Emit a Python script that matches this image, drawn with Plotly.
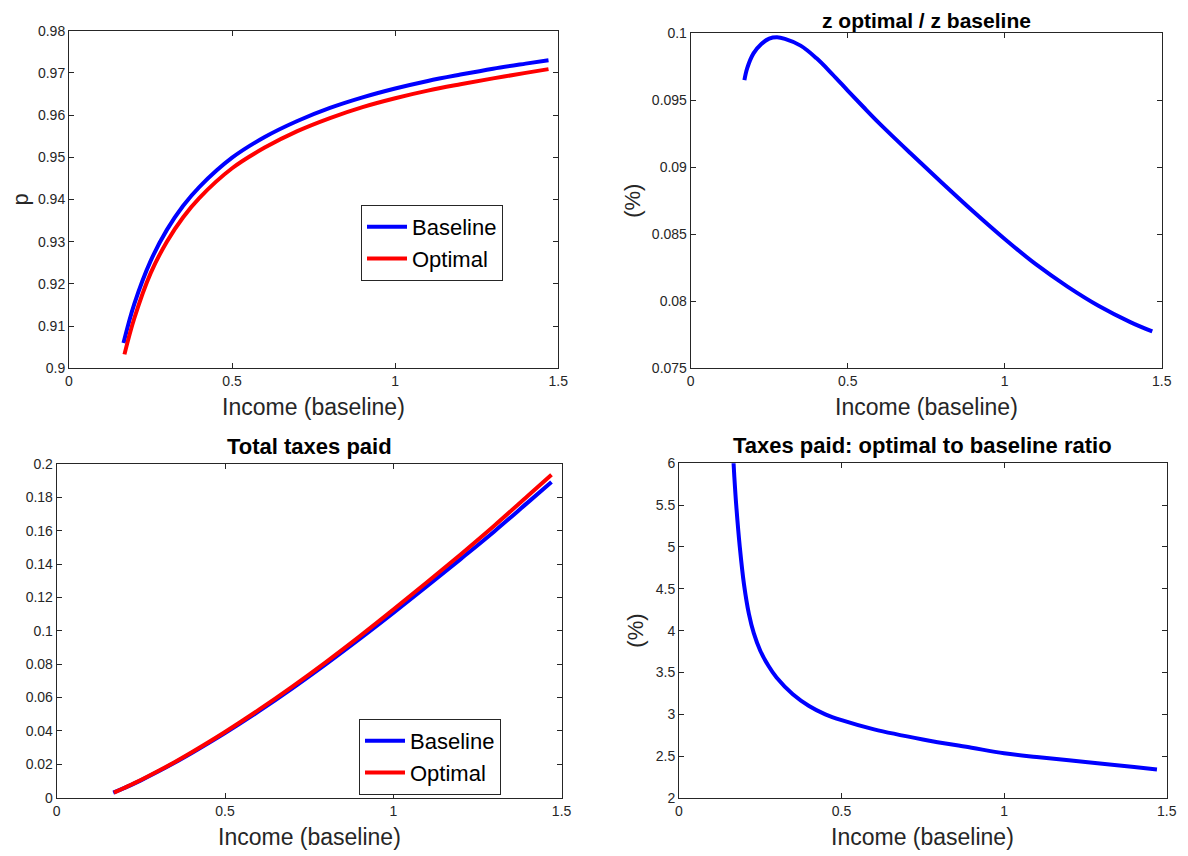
import plotly.graph_objects as go

# ---------------- data ----------------
# Panel 1: p vs income
p_x_base = [0.167, 0.2, 0.25, 0.3, 0.35, 0.4, 0.5, 0.6, 0.7, 0.8, 0.9, 1.0, 1.1, 1.2, 1.3, 1.4, 1.47]
p_base = [0.9060, 0.9152, 0.9254, 0.9328, 0.9385, 0.9430, 0.9499, 0.9548, 0.9586, 0.9617,
          0.9642, 0.9663, 0.9681, 0.9696, 0.9710, 0.9722, 0.9730]
p_x_opt = [0.17, 0.2, 0.25, 0.3, 0.35, 0.4, 0.5, 0.6, 0.7, 0.8, 0.9, 1.0, 1.1, 1.2, 1.3, 1.4, 1.47]
p_opt = [0.9033, 0.9118, 0.9225, 0.9300, 0.9358, 0.9404, 0.9474, 0.9523, 0.9562, 0.9593,
         0.9619, 0.9640, 0.9658, 0.9673, 0.9687, 0.9700, 0.9709]

# Panel 2: z optimal / z baseline
z_x = [0.171, 0.18, 0.2, 0.225, 0.25, 0.275, 0.3, 0.35, 0.4, 0.45, 0.5, 0.55, 0.6, 0.7,
       0.8, 0.9, 1.0, 1.1, 1.2, 1.3, 1.4, 1.47]
z_ratio = [0.0965, 0.0974, 0.0985, 0.0992, 0.0996, 0.0997, 0.09958, 0.09908, 0.09815, 0.09698,
           0.09573, 0.09450, 0.09330, 0.09105, 0.08885, 0.08670, 0.08465, 0.08275, 0.08110,
           0.07965, 0.07845, 0.07775]

# Panel 3: total taxes paid
t_x_base = [0.168, 0.2, 0.25, 0.3, 0.35, 0.4, 0.5, 0.6, 0.7, 0.8, 0.9, 1.0, 1.1, 1.2, 1.3, 1.4, 1.47]
tax_base = [0.0030, 0.0057, 0.0104, 0.0155, 0.0209, 0.0266, 0.0387, 0.0517, 0.0655, 0.0800,
            0.0951, 0.1107, 0.1267, 0.1430, 0.1596, 0.1770, 0.1892]
t_x_opt = [0.17, 0.2, 0.25, 0.3, 0.35, 0.4, 0.5, 0.6, 0.7, 0.8, 0.9, 1.0, 1.1, 1.2, 1.3, 1.4, 1.47]
tax_opt = [0.0030, 0.0058, 0.0106, 0.0158, 0.0213, 0.0271, 0.0394, 0.0526, 0.0666, 0.0813,
           0.0967, 0.1127, 0.1291, 0.1458, 0.1630, 0.1810, 0.1936]

# Panel 4: taxes paid ratio
r_x = [0.165, 0.17, 0.176, 0.187, 0.2, 0.215, 0.23, 0.25, 0.275, 0.3, 0.35, 0.4, 0.45,
       0.5, 0.6, 0.75, 0.9, 1.0, 1.1, 1.25, 1.4, 1.47]
r_ratio = [6.20, 5.85, 5.50, 5.00, 4.55, 4.20, 3.97, 3.76, 3.58, 3.44, 3.24, 3.10, 3.00,
           2.93, 2.82, 2.70, 2.60, 2.535, 2.49, 2.43, 2.37, 2.34]

# tick labels
x_ticks = [0, 0.5, 1, 1.5]
x_ticktext = ["0", "0.5", "1", "1.5"]
y1_ticks = [0.9, 0.91, 0.92, 0.93, 0.94, 0.95, 0.96, 0.97, 0.98]
y1_text = ["0.9", "0.91", "0.92", "0.93", "0.94", "0.95", "0.96", "0.97", "0.98"]
y2_ticks = [0.075, 0.08, 0.085, 0.09, 0.095, 0.1]
y2_text = ["0.075", "0.08", "0.085", "0.09", "0.095", "0.1"]
y3_ticks = [0, 0.02, 0.04, 0.06, 0.08, 0.1, 0.12, 0.14, 0.16, 0.18, 0.2]
y3_text = ["0", "0.02", "0.04", "0.06", "0.08", "0.1", "0.12", "0.14", "0.16", "0.18", "0.2"]
y4_ticks = [2, 2.5, 3, 3.5, 4, 4.5, 5, 5.5, 6]
y4_text = ["2", "2.5", "3", "3.5", "4", "4.5", "5", "5.5", "6"]

titles = ["", "z optimal / z baseline", "Total taxes paid", "Taxes paid: optimal to baseline ratio"]
xlabel = "Income (baseline)"
ylabels = ["p", "(%)", "", "(%)"]

# ---------------- figure ----------------
OFF = 8                      # default page body margin
W, H = 1188 - OFF, 856 - OFF
FONT = "Liberation Sans, Arial, Helvetica, sans-serif"
AX = "#262626"
BLUE = "#0000FF"
RED = "#FF0000"
LW = 4

# axes boxes in page pixels: (left, right, top, bottom)
boxes = [(69, 558.3, 30.7, 368.3),
         (690.7, 1161.7, 33.3, 368.3),
         (56.7, 561.6, 464, 797.7),
         (679, 1166.7, 463.3, 798)]
title_gap = [0, -0.5, 3, 3]
title_size = [22, 21, 22, 22]


def px(xp):
    return (xp - OFF) / W


def py(yp):
    return 1 - (yp - OFF) / H


fig = go.Figure()

fig.add_trace(go.Scatter(x=p_x_base, y=p_base, mode="lines", name="Baseline",
                         line=dict(color=BLUE, width=LW, shape="spline"),
                         xaxis="x", yaxis="y", legend="legend"))
fig.add_trace(go.Scatter(x=p_x_opt, y=p_opt, mode="lines", name="Optimal",
                         line=dict(color=RED, width=LW, shape="spline"),
                         xaxis="x", yaxis="y", legend="legend"))
fig.add_trace(go.Scatter(x=z_x, y=z_ratio, mode="lines", showlegend=False,
                         line=dict(color=BLUE, width=LW, shape="spline"),
                         xaxis="x2", yaxis="y2"))
fig.add_trace(go.Scatter(x=t_x_base, y=tax_base, mode="lines", name="Baseline",
                         line=dict(color=BLUE, width=LW, shape="spline"),
                         xaxis="x3", yaxis="y3", legend="legend2"))
fig.add_trace(go.Scatter(x=t_x_opt, y=tax_opt, mode="lines", name="Optimal",
                         line=dict(color=RED, width=LW, shape="spline"),
                         xaxis="x3", yaxis="y3", legend="legend2"))
fig.add_trace(go.Scatter(x=r_x, y=r_ratio, mode="lines", showlegend=False,
                         line=dict(color=BLUE, width=LW, shape="spline"),
                         xaxis="x4", yaxis="y4"))

yticks = [(y1_ticks, y1_text, [0.9, 0.98]),
          (y2_ticks, y2_text, [0.075, 0.1]),
          (y3_ticks, y3_text, [0, 0.2]),
          (y4_ticks, y4_text, [2, 6])]

common = dict(showline=True, linecolor=AX, linewidth=1, mirror="ticks",
              ticks="inside", ticklen=5, tickcolor=AX, tickwidth=1,
              showgrid=False, zeroline=False, fixedrange=True, automargin=False,
              tickfont=dict(family=FONT, size=14, color=AX))

layout_axes = {}
annotations = []
for i, (l, r, t, b) in enumerate(boxes):
    n = "" if i == 0 else str(i + 1)
    xd = [px(l), px(r)]
    yd = [py(b), py(t)]
    tv, tt, rng = yticks[i]
    layout_axes["xaxis" + n] = dict(domain=xd, range=[0, 1.5], tickvals=x_ticks,
                                    ticktext=x_ticktext, anchor="y" + n, **common)
    layout_axes["yaxis" + n] = dict(domain=yd, range=rng, tickvals=tv, ticktext=tt,
                                    anchor="x" + n, **common)
    cx = (l + r) / 2
    cy = (t + b) / 2
    # x-axis label
    annotations.append(dict(text=xlabel, x=px(cx), y=py(b + 39), xref="paper", yref="paper",
                            xanchor="center", yanchor="middle", showarrow=False,
                            font=dict(family=FONT, size=23, color=AX)))
    if ylabels[i]:
        yl_x = {0: 20, 1: 633, 3: 636}[i]
        annotations.append(dict(text=ylabels[i], x=px(yl_x), y=py(cy), xref="paper", yref="paper",
                                xanchor="center", yanchor="middle", textangle=-90, showarrow=False,
                                font=dict(family=FONT, size=22, color=AX)))
    if titles[i]:
        annotations.append(dict(text="<b>" + titles[i] + "</b>", x=px(cx), y=py(t - title_gap[i]),
                                xref="paper", yref="paper", xanchor="center", yanchor="bottom",
                                showarrow=False,
                                font=dict(family=FONT, size=title_size[i], color="black")))

legend_style = dict(xanchor="left", yanchor="top", bgcolor="white", bordercolor=AX,
                    borderwidth=1, font=dict(family=FONT, size=22, color="black"),
                    tracegroupgap=0, itemwidth=40)

fig.update_layout(
    width=W, height=H,
    margin=dict(l=0, r=0, t=0, b=0),
    paper_bgcolor="white", plot_bgcolor="white",
    font=dict(family=FONT, color=AX),
    legend=dict(x=px(361), y=py(205), **legend_style),
    legend2=dict(x=px(359), y=py(719), **legend_style),
    annotations=annotations,
    **layout_axes,
)

fig.write_html("out.html")
